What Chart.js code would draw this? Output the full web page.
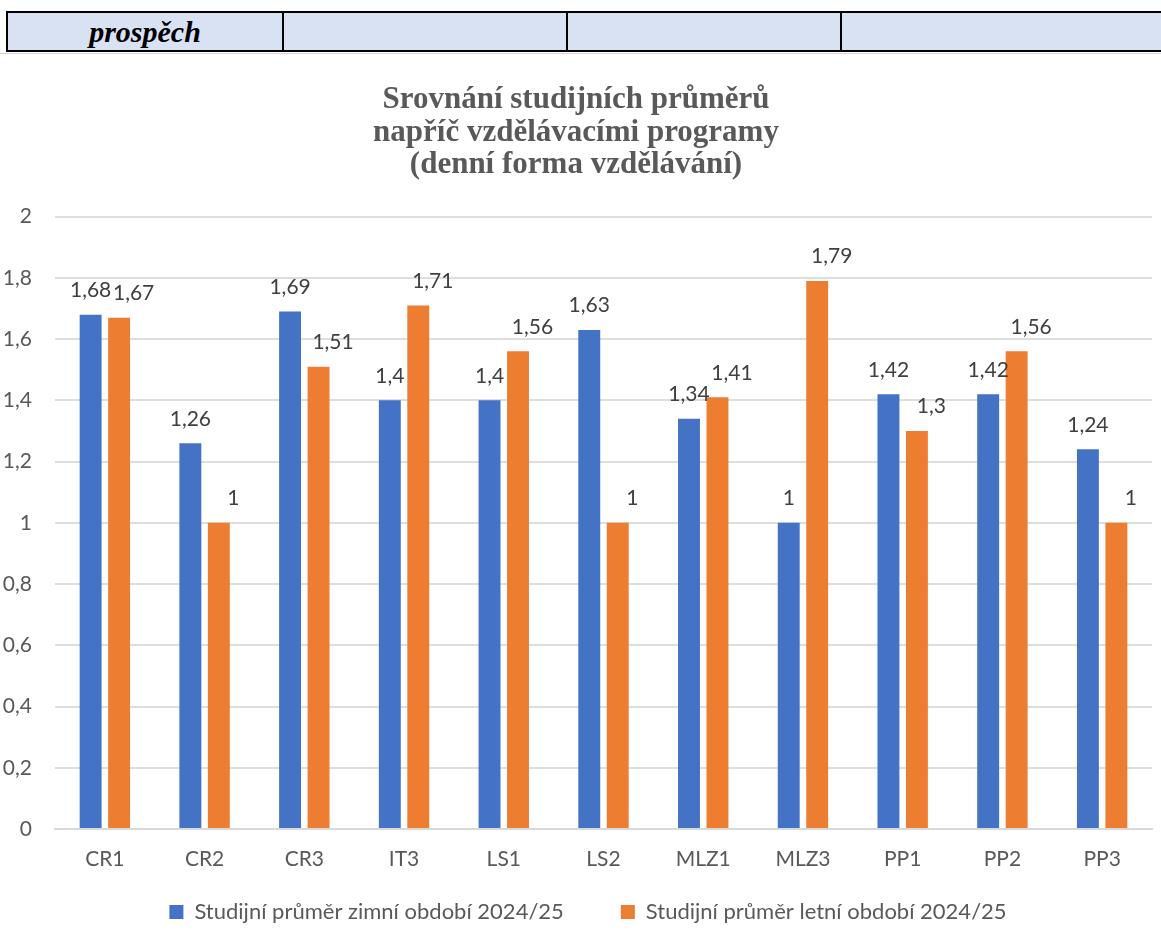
<!DOCTYPE html>
<html lang="cs">
<head>
<meta charset="utf-8">
<title>Srovnání studijních průměrů</title>
<script src="https://cdn.jsdelivr.net/npm/chart.js@4.4.1/dist/chart.umd.min.js"></script>
<style>
    html, body {
        margin: 0;
        padding: 0;
        width: 1161px;
        height: 944px;
        overflow: hidden;
        background: #fff;
    }

    #tableRow {
        position: absolute;
        top: 11px;
        left: 6px;
        width: 1180px;
        height: 41px;
        box-sizing: border-box;
        border: 2px solid #000;
        background: #d9e2f3;
        z-index: 2;
    }

    .cell {
        position: absolute;
        top: 0;
        bottom: 0;
        border-right: 2px solid #000;
        font-family: "Liberation Serif", serif;
        font-weight: bold;
        font-style: italic;
        font-size: 30px;
        line-height: 37px;
        text-align: center;
        color: #000;
    }

    #underLine {
        position: absolute;
        top: 53px;
        left: 0;
        width: 1161px;
        height: 1px;
        background: #d4d4d4;
    }

    #chart {
        position: absolute;
        top: 0;
        left: 0;
    }
</style>
</head>
<body>

<div id="tableRow">
    <div class="cell" style="left:0;width:274px;">prospěch</div>
    <div class="cell" style="left:276px;width:282px;"></div>
    <div class="cell" style="left:560px;width:272px;"></div>
    <div class="cell" style="left:834px;width:400px;border-right:none;"></div>
</div>
<div id="underLine"></div>

<canvas id="chart" width="1161" height="963"></canvas>

<script>
// ======================
// DATA
// ======================
const programy = [
    "CR1", "CR2", "CR3", "IT3", "LS1", "LS2",
    "MLZ1", "MLZ3", "PP1", "PP2", "PP3"
];

const prumerZimni = [1.68, 1.26, 1.69, 1.4, 1.4, 1.63, 1.34, 1, 1.42, 1.42, 1.24];
const prumerLetni = [1.67, 1, 1.51, 1.71, 1.56, 1, 1.41, 1.79, 1.3, 1.56, 1];

const nazevZimni = "Studijní průměr zimní období 2024/25";
const nazevLetni = "Studijní průměr letní období 2024/25";

const titulek = [
    "Srovnání studijních průměrů",
    "napříč vzdělávacími programy",
    "(denní forma vzdělávání)"
];

// carka misto tecky
function czNum(v) {
    return String(Math.round(v * 100) / 100).replace(".", ",");
}

// popisky nad sloupci (letni jsou v originale posunute doprava)
const labelShift = [0, 14.5];

const barLabels = {
    id: "barLabels",
    afterDatasetsDraw(chart) {
        const ctx = chart.ctx;
        ctx.save();
        ctx.font = "21px Lato";
        ctx.fillStyle = "#404040";
        ctx.textAlign = "center";
        ctx.textBaseline = "alphabetic";

        chart.data.datasets.forEach((ds, i) => {
            chart.getDatasetMeta(i).data.forEach((bar, j) => {
                ctx.fillText(czNum(ds.data[j]), bar.x + labelShift[i], bar.y - 17.5);
            });
        });

        ctx.restore();
    }
};

// legenda blize k ose, jako v Excelu
const legendMove = {
    id: "legendMove",
    afterLayout(chart) {
        const lg = chart.legend;
        lg.top -= 30;
        lg.bottom -= 30;
        lg.left += 12;
        lg.right += 12;
    }
};

Chart.defaults.font.family = "Lato";
Chart.defaults.font.size = 21;
Chart.defaults.color = "#595959";

new Chart(
    document.getElementById("chart"),
    {
        type: "bar",

        data: {
            labels: programy,

            datasets: [
                {
                    label: nazevZimni,
                    data: prumerZimni,
                    backgroundColor: "#4472c4",
                    categoryPercentage: 0.571,
                    barPercentage: 0.77
                },
                {
                    label: nazevLetni,
                    data: prumerLetni,
                    backgroundColor: "#ed7d31",
                    categoryPercentage: 0.571,
                    barPercentage: 0.77
                }
            ]
        },

        options: {
            responsive: false,
            animation: false,

            layout: {
                padding: {
                    top: 84,
                    left: 0,
                    right: 9,
                    bottom: 0
                }
            },

            plugins: {
                title: {
                    display: true,
                    text: titulek,
                    color: "#595959",
                    font: {
                        family: "Liberation Serif",
                        size: 31,
                        weight: "bold",
                        lineHeight: 1.05
                    },
                    padding: {
                        top: 0,
                        bottom: 35
                    }
                },

                legend: {
                    position: "bottom",
                    labels: {
                        boxWidth: 14,
                        boxHeight: 14,
                        padding: 57,
                        color: "#595959",
                        font: {
                            size: 22
                        }
                    }
                },

                tooltip: {
                    enabled: false
                }
            },

            scales: {
                x: {
                    grid: {
                        display: false,
                        drawTicks: false
                    },
                    border: {
                        display: true,
                        color: "#d9d9d9",
                        width: 2
                    },
                    ticks: {
                        padding: 18,
                        color: "#595959"
                    },
                    afterFit: s => {
                        s.height = 45;
                    }
                },

                y: {
                    min: 0,
                    max: 2,
                    grid: {
                        color: "#dedede",
                        lineWidth: 2,
                        drawTicks: false
                    },
                    border: {
                        display: false
                    },
                    ticks: {
                        stepSize: 0.2,
                        padding: 23,
                        color: "#595959",
                        callback: v => czNum(v)
                    },
                    afterFit: s => {
                        s.width = 55;
                    }
                }
            }
        },

        plugins: [barLabels, legendMove]
    }
);
</script>
</body>
</html>
